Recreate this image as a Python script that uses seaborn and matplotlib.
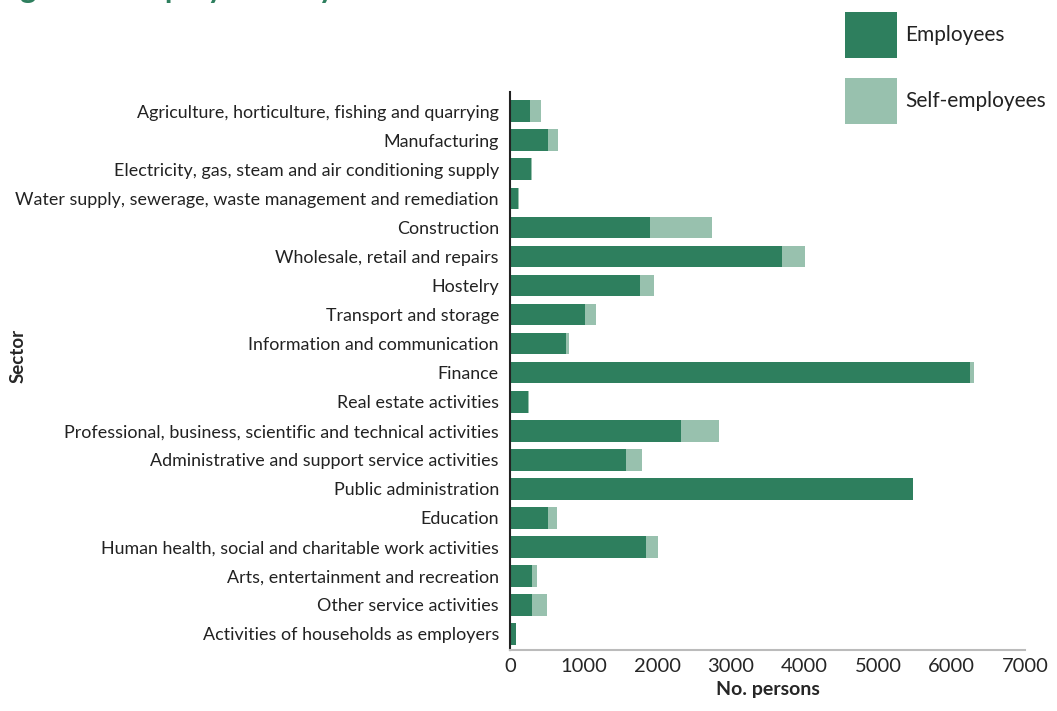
import matplotlib
matplotlib.use("Agg")
import matplotlib.pyplot as plt
import seaborn as sns
import pandas as pd
from matplotlib.patches import Rectangle

sectors = ["Agriculture, horticulture, fishing and quarrying", "Manufacturing",
           "Electricity, gas, steam and air conditioning supply",
           "Water supply, sewerage, waste management and remediation", "Construction",
           "Wholesale, retail and repairs", "Hostelry", "Transport and storage",
           "Information and communication", "Finance", "Real estate activities",
           "Professional, business, scientific and technical activities",
           "Administrative and support service activities", "Public administration",
           "Education", "Human health, social and charitable work activities",
           "Arts, entertainment and recreation", "Other service activities",
           "Activities of households as employers"]
employees = [270, 515, 285, 110, 1900, 3695, 1765, 1020, 760, 6250, 245, 2325, 1575, 5480, 515, 1850, 300, 300, 80]
self_employees = [150, 135, 15, 10, 845, 315, 190, 150, 40, 50, 15, 515, 220, 0, 125, 160, 65, 200, 0]

dark = "#2e7f5e"
light = "#98c1ae"
df = pd.DataFrame({"Sector": sectors, "emp": employees,
                   "total": [a + b for a, b in zip(employees, self_employees)]})

sns.set_style("white")
plt.rcParams["font.family"] = ["Lato", "DejaVu Sans"]
fig = plt.figure(figsize=(10.57, 7.11), dpi=100)
ax = fig.add_axes([0.4825, 0.086, 0.4875, 0.784])
sns.barplot(data=df, y="Sector", x="total", color=light, width=0.75, orient="h", ax=ax,
            saturation=1, linewidth=0)
sns.barplot(data=df, y="Sector", x="emp", color=dark, width=0.75, orient="h", ax=ax,
            saturation=1, linewidth=0)
ax.set_xlim(0, 7000)
ax.set_ylim(18.55, -0.65)
ax.set_xticks(range(0, 7001, 1000))
ax.tick_params(axis="x", labelsize=14.5, length=8, width=1.5, color="#222222", direction="in", pad=6)
ax.tick_params(axis="y", labelsize=12.9, length=0, pad=8)
for t in ax.get_yticklabels():
    t.set_color("#222222")
for sp in ["top", "right"]:
    ax.spines[sp].set_visible(False)
ax.spines["left"].set_color("#222222")
ax.spines["left"].set_linewidth(1.5)
ax.spines["bottom"].set_color("#bbbbbb")
ax.spines["bottom"].set_linewidth(1.5)
ax.set_xlabel("No. persons", fontsize=14, fontweight="bold", labelpad=4)
ax.set_ylabel("")
fig.text(0.017, 0.5, "Sector", rotation=90, fontsize=13.5, fontweight="bold", va="center", ha="center")

# legend
for i, (lab, c) in enumerate([("Employees", dark), ("Self-employees", light)]):
    y0 = 1 - (58 + i * 66) / 711
    fig.patches.append(Rectangle((845 / 1057, y0), 52 / 1057, 46 / 711, transform=fig.transFigure,
                                 facecolor=c, edgecolor="none"))
    fig.text(905 / 1057, y0 + 23 / 711, lab, fontsize=15, va="center", ha="left", color="#222222")

fig.text(-0.005, 1 + 1.5 / 711, "Figure 3: Employment by sector", fontsize=22, fontweight="bold",
         color=dark, va="baseline", ha="left")
fig.savefig("out.png", dpi=100)
